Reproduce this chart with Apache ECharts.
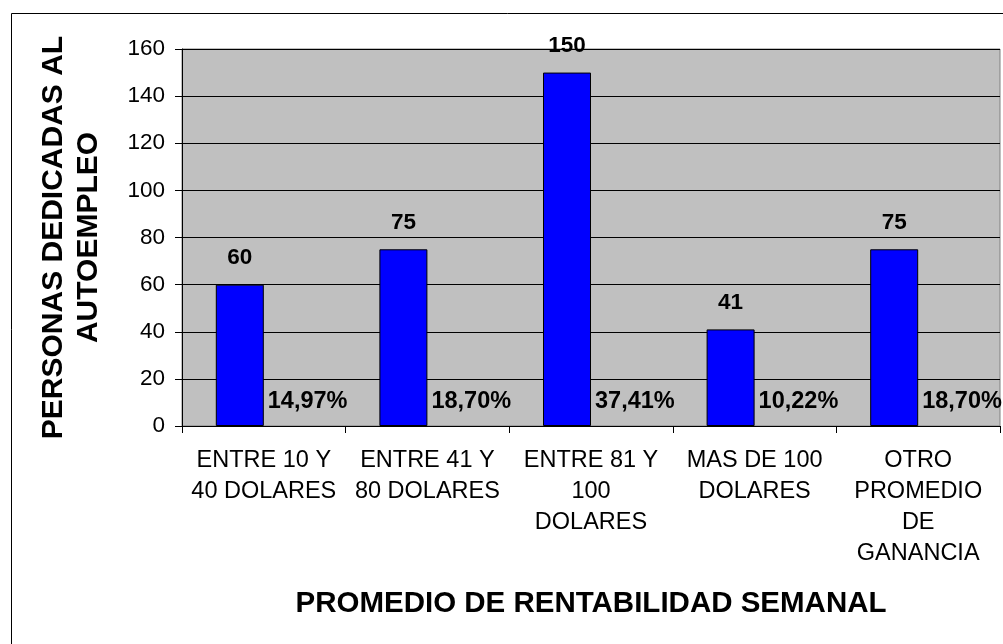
<!DOCTYPE html>
<html>
<head>
<meta charset="utf-8">
<script src="https://cdn.jsdelivr.net/npm/echarts@6/dist/echarts.min.js"></script>
<style>
html,body{margin:0;padding:0;background:#fff;}
#c{width:1003px;height:644px;}
</style>
</head>
<body>
<div id="c"></div>
<script>
var categories = ['ENTRE 10 Y\n40 DOLARES', 'ENTRE 41 Y\n80 DOLARES', 'ENTRE 81 Y\n100\nDOLARES', 'MAS DE 100\nDOLARES', 'OTRO\nPROMEDIO\nDE\nGANANCIA'];
var personas = [60, 75, 150, 41, 75];
var porcentajes = [14.97, 18.70, 37.41, 10.22, 18.70];
var yTicks = [0, 20, 40, 60, 80, 100, 120, 140, 160];

var FONT = '"Liberation Sans", Arial, sans-serif';
var chart = echarts.init(document.getElementById('c'), null, {renderer: 'canvas'});
chart.setOption({
  animation: false,
  backgroundColor: '#ffffff',
  textStyle: {fontFamily: FONT, color: '#000'},
  graphic: [{
    type: 'rect', left: 9, top: 11, z: 100, silent: true,
    shape: {x: 0, y: 0, width: 1100, height: 800},
    style: {fill: 'none', stroke: '#000', lineWidth: 1}
  }],
  grid: {
    left: 182, top: 49, right: 3, bottom: 218,
    show: true, backgroundColor: '#C0C0C0', borderColor: '#808080', borderWidth: 1
  },
  xAxis: {
    type: 'category',
    data: categories,
    name: 'PROMEDIO DE RENTABILIDAD SEMANAL',
    nameLocation: 'middle',
    nameGap: 163,
    nameTextStyle: {fontFamily: FONT, fontSize: 29.5, fontWeight: 'bold', color: '#000'},
    axisLine: {lineStyle: {color: '#000', width: 1}},
    axisTick: {show: true, length: 7, lineStyle: {color: '#000'}},
    axisLabel: {fontFamily: FONT, fontSize: 23.5, color: '#000', lineHeight: 31, margin: 19, interval: 0}
  },
  yAxis: [{
    type: 'value',
    min: yTicks[0], max: yTicks[yTicks.length - 1], interval: 20,
    name: 'PERSONAS DEDICADAS AL\nAUTOEMPLEO',
    nameLocation: 'middle',
    nameRotate: 90,
    nameGap: 76,
    nameTextStyle: {fontFamily: FONT, fontSize: 30, fontWeight: 'bold', color: '#000', lineHeight: 35},
    axisLine: {show: true, lineStyle: {color: '#000', width: 1}},
    axisTick: {show: true, length: 7, lineStyle: {color: '#000'}},
    axisLabel: {fontFamily: FONT, fontSize: 22.5, color: '#000', margin: 17},
    splitLine: {show: true, lineStyle: {color: '#000', width: 1}}
  }, {
    type: 'value', min: 0, max: 100, show: false,
    splitLine: {show: false}
  }],
  series: [{
    type: 'bar',
    data: personas,
    barWidth: 48,
    barGap: '0%',
    itemStyle: {color: '#0000FF', borderColor: '#000', borderWidth: 1},
    label: {
      show: true, position: 'top', distance: 15,
      fontFamily: FONT, fontSize: 22.5, fontWeight: 'bold', color: '#000'
    }
  }, {
    type: 'bar',
    yAxisIndex: 1,
    data: porcentajes,
    barWidth: 48,
    itemStyle: {color: 'rgba(0,0,0,0)'},
    label: {
      show: true,
      position: [4, '100%'],
      offset: [0, -12],
      align: 'left',
      verticalAlign: 'bottom',
      fontFamily: FONT, fontSize: 23.5, fontWeight: 'bold', color: '#000',
      formatter: function (p) { return p.value.toFixed(2).replace('.', ',') + '%'; }
    }
  }]
});
</script>
</body>
</html>
